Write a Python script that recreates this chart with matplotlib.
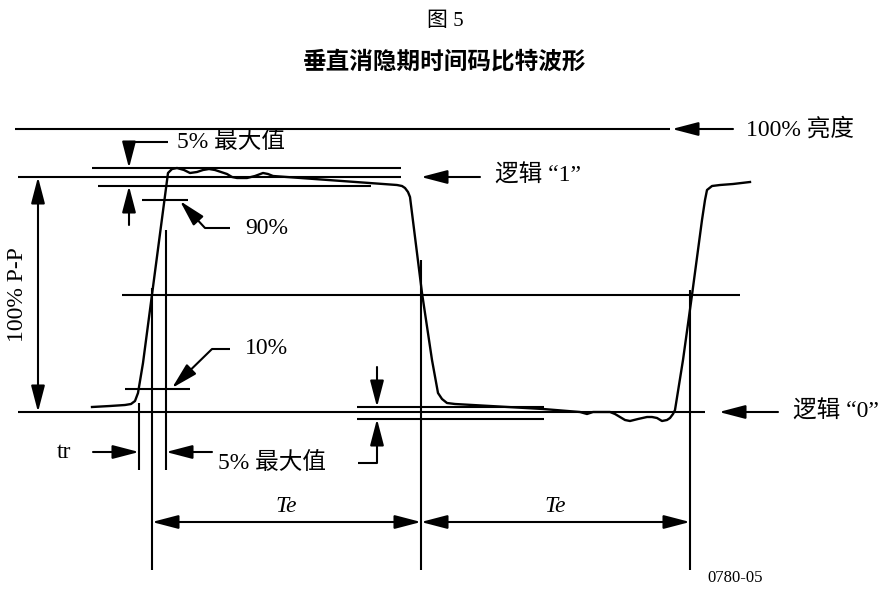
"""Figure 5: vertical-blanking time-code bit waveform (pixel-space schematic)."""
import matplotlib
matplotlib.use("Agg")
import matplotlib.pyplot as plt
from matplotlib.patches import FancyArrowPatch

# waveform trace (x, y in image pixels)
wave_x = [92, 110, 125, 131, 135, 138, 143, 168, 172, 177, 184, 190, 197, 203, 209, 215,
          221, 227, 232, 237, 242, 247, 255, 263, 268, 273, 397, 402, 405, 408, 410, 422,
          432, 438, 442, 447, 455, 543, 580, 587, 593, 602, 610, 615, 620, 625, 630, 638,
          647, 652, 657, 662, 667, 670, 673, 675, 683, 692, 702, 705, 707, 712, 720, 733, 750]
wave_y = [407, 406, 405, 404, 401, 393, 363, 173, 169, 168, 170, 173, 172, 170, 169, 170,
          172, 174, 177, 178, 178, 178, 176, 173, 174, 176, 185, 186, 188, 192, 197, 293,
          360, 393, 399, 403, 404, 409, 412, 414, 412, 412, 412, 414, 417, 420, 421, 419,
          417, 417, 418, 421, 420, 418, 414, 410, 360, 295, 220, 200, 190, 186, 185, 184, 182]

# reference levels
y_white = 129       # 100 % brightness
y_one = 177         # logic "1"
y_zero = 412        # logic "0"
y_mid = 295         # 50 % crossing
y_90, y_10 = 200, 389
top_band = (168, 186)
bot_band = (407, 419)
te_x = [152, 421, 690]
y_te = 522

FS = 17
FAM = ["Liberation Serif", "Noto Sans CJK SC"]
LW = 1.5

def line(ax, xs, ys, lw=LW):
    ax.plot(xs, ys, color="black", lw=lw, solid_capstyle="butt")

def arrow(ax, x0, y0, x1, y1, style="-|>"):
    ax.add_patch(FancyArrowPatch((x0, y0), (x1, y1),
                                 arrowstyle=style + ",head_length=1.15,head_width=0.3",
                                 mutation_scale=14, color="black", lw=LW,
                                 shrinkA=0, shrinkB=0))

def label(ax, x, y, s, ha="left", fs=FS, **kw):
    ax.text(x, y, s, ha=ha, va="center", fontsize=fs, family=FAM, **kw)

fig = plt.figure(figsize=(8.9, 5.9), dpi=100)
ax = fig.add_axes([0, 0, 1, 1])
ax.set_xlim(0, 890)
ax.set_ylim(590, 0)
ax.axis("off")

# titles
label(ax, 445, 22, "图 5", ha="center", fs=15)
label(ax, 445, 62, "垂直消隐期时间码比特波形", ha="center", fs=17, weight="bold")

# horizontal reference lines
line(ax, [15, 670], [y_white, y_white])
line(ax, [92, 401], [top_band[0]] * 2)
line(ax, [18, 401], [y_one, y_one])
line(ax, [98, 371], [top_band[1]] * 2)
line(ax, [122, 740], [y_mid, y_mid])
line(ax, [18, 705], [y_zero, y_zero])
line(ax, [357, 544], [bot_band[0]] * 2)
line(ax, [357, 544], [bot_band[1]] * 2)
line(ax, [142, 188], [y_90, y_90])
line(ax, [125, 190], [y_10, y_10])

# the waveform
ax.plot(wave_x, wave_y, color="black", lw=1.7, solid_joinstyle="round")

# vertical guides
line(ax, [te_x[0]] * 2, [288, 570])
line(ax, [te_x[1]] * 2, [260, 570])
line(ax, [te_x[2]] * 2, [290, 570])
line(ax, [166, 166], [230, 470])
line(ax, [139, 139], [403, 470])

# side arrows and labels
arrow(ax, 733, y_white, 672, y_white)
label(ax, 746, y_white, "100% 亮度")
arrow(ax, 480, y_one, 421, y_one)
label(ax, 495, y_one - 1, "逻辑 “1”")
arrow(ax, 778, y_zero, 719, y_zero)
label(ax, 793, y_zero, "逻辑 “0”")

# 100% P-P
arrow(ax, 38, y_one, 38, y_zero, style="<|-|>")
label(ax, 18, y_mid, "100% P-P", ha="center", rotation=90)

# 5% overshoot dimension (top)
line(ax, [129, 168], [142, 142])
arrow(ax, 129, 142, 129, top_band[0])
arrow(ax, 129, 225, 129, top_band[1])
label(ax, 177, 142, "5% 最大值")

# 90% / 10% leaders
line(ax, [230, 205], [228, 228])
arrow(ax, 205, 228, 180, y_90 + 1)
label(ax, 245, 228, "90%")
line(ax, [230, 212], [349, 349])
arrow(ax, 212, 349, 172, y_10 - 1)
label(ax, 245, 349, "10%")

# rise time arrows
arrow(ax, 93, 452, 139, 452)
label(ax, 57, 452, "tr")
arrow(ax, 212, 452, 166, 452)
label(ax, 218, 463, "5% 最大值")

# 5% undershoot dimension (bottom)
arrow(ax, 377, 367, 377, bot_band[0])
arrow(ax, 377, 463, 377, bot_band[1])
line(ax, [358, 377], [463, 463])

# Te periods
arrow(ax, te_x[0], y_te, te_x[1], y_te, style="<|-|>")
arrow(ax, te_x[1], y_te, te_x[2], y_te, style="<|-|>")
label(ax, (te_x[0] + te_x[1]) / 2, y_te - 15, "Te", ha="center", style="italic")
label(ax, (te_x[1] + te_x[2]) / 2, y_te - 15, "Te", ha="center", style="italic")

label(ax, 735, 578, "0780-05", ha="center", fs=12)

fig.savefig("out.png", dpi=100)
